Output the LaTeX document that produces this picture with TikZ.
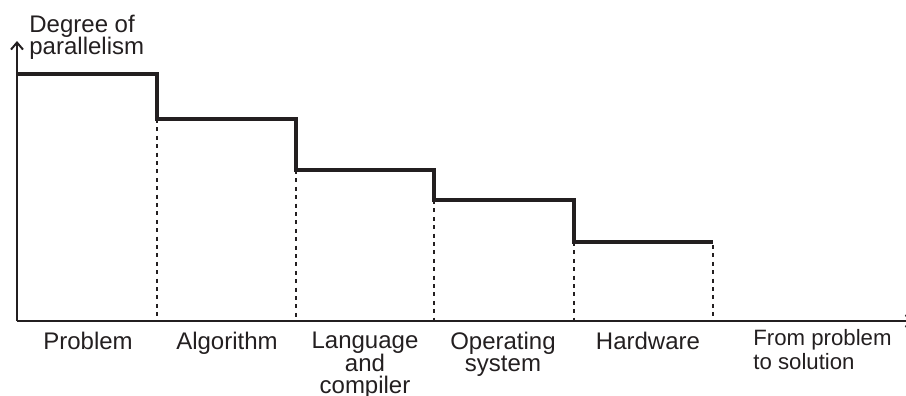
\documentclass[tikz,border=0pt]{standalone}
\usepackage{fontspec}
\setmainfont{Liberation Sans}
\usetikzlibrary{arrows.meta}
\definecolor{ink}{HTML}{231F20}
\newcommand\tightlines{\lineskiplimit=-6pt\relax}
\begin{document}
\begin{tikzpicture}[x=0.5pt,y=-0.5pt,
  axis/.style={draw=ink,line width=1pt,-{Straight Barb[length=3.5pt,width=6pt,line width=1pt]}},
  stepline/.style={draw=ink,line width=2.2pt,line join=miter},
  guide/.style={draw=ink,line width=1pt,dash pattern=on 2pt off 2.2pt},
  lbl/.style={text=ink,font=\fontsize{12}{11.1}\selectfont\tightlines,align=center,inner sep=0pt,anchor=north},
  ylbl/.style={text=ink,font=\fontsize{12}{11}\selectfont\tightlines,align=left,inner sep=0pt,anchor=north west}]
\useasboundingbox (0,0) rectangle (906,396);
\clip (0,0) rectangle (906,396);

% axes
\coordinate (O) at (17,321);
\coordinate (ytop) at (17,41);
\coordinate (xend) at (914,321);
\draw[axis] (O) -- (ytop);
\draw[axis] (O) -- (xend);

% step profile
\coordinate (s0) at (17,74);
\coordinate (s1) at (157,74);
\coordinate (s2) at (157,119);
\coordinate (s3) at (296,119);
\coordinate (s4) at (296,170);
\coordinate (s5) at (434,170);
\coordinate (s6) at (434,200);
\coordinate (s7) at (574,200);
\coordinate (s8) at (574,242);
\coordinate (s9) at (713,242);
\draw[stepline] (s0) -- (s1) -- (s2) -- (s3) -- (s4) -- (s5) -- (s6) -- (s7) -- (s8) -- (s9);

% dotted guides down to the axis
\coordinate (b1) at (157,321);
\coordinate (b2) at (296,321);
\coordinate (b3) at (434,321);
\coordinate (b4) at (574,321);
\coordinate (b5) at (713,321);
\draw[guide] (s2) -- (b1);
\draw[guide] (s4) -- (b2);
\draw[guide] (s6) -- (b3);
\draw[guide] (s8) -- (b4);
\draw[guide] (713,245) -- (b5);

% labels
\node[ylbl] (ylab) at (29,15) {Degree of\\parallelism};
\node[lbl] (p1) at (88,332) {Problem};
\node[lbl] (p2) at (227,332) {Algorithm};
\node[lbl] (p3) at (365,332) {Language\\and\\compiler};
\node[lbl] (p4) at (503,332) {Operating\\system};
\node[lbl] (p5) at (648,332) {Hardware};
\node[lbl,align=left,anchor=north west,font=\fontsize{11.1}{12.2}\selectfont\tightlines] (p6) at (753,329) {From problem\\to solution};
\end{tikzpicture}
\end{document}
